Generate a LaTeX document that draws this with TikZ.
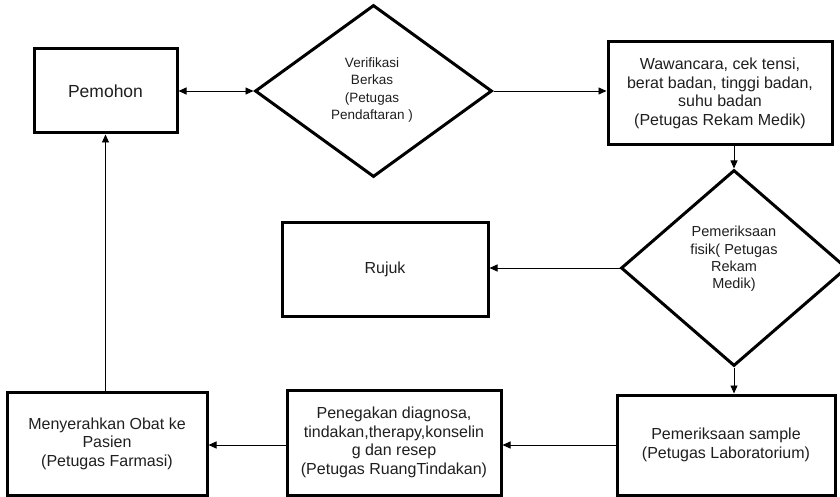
\documentclass[tikz,border=0pt]{standalone}
\usepackage{fontspec}
\setmainfont{Liberation Sans}
\usetikzlibrary{shapes.geometric,arrows.meta}
\begin{document}
\begin{tikzpicture}[x=1pt,y=-1pt,
  box/.style={draw=black,line width=3pt,rectangle,inner sep=0pt,align=center,
    font=\fontsize{16}{18.5}\selectfont,text=black!88},
  dia/.style={draw=black,line width=3pt,diamond,inner sep=0pt},
  dtext/.style={inner sep=0pt,align=center,font=\fontsize{13.8}{17.3}\selectfont,text=black!88},
  arr/.style={line width=0.9pt,-{Triangle[length=8pt,width=7pt]}},
  darr/.style={line width=0.9pt,{Triangle[length=8pt,width=7pt]}-{Triangle[length=8pt,width=7pt]}}]
\useasboundingbox (0,0) rectangle (840,497);
\fill[white] (0,0) rectangle (840,497);
\begin{scope}
\clip (0,0) rectangle (840,497);
\node[box,minimum width=143pt,minimum height=84pt,font=\fontsize{17.5}{20}\selectfont] (pemohon) at (105.5,91) {Pemohon};
\node[dia,minimum width=237pt,minimum height=172pt] (verif) at (373.5,91) {};
\node[dtext,font=\fontsize{13.5}{17.3}\selectfont] (veriftext) at (372,90) {Verifikasi\\Berkas\\(Petugas\\Pendaftaran )};
\node[box,minimum width=224pt,minimum height=103pt] (waw) at (720,93.5) {Wawancara, cek tensi,\\berat badan, tinggi badan,\\suhu badan\\ (Petugas Rekam Medik)};
\node[dia,minimum width=226pt,minimum height=196pt] (fisik) at (734,268) {};
\node[dtext,font=\fontsize{14.5}{17.3}\selectfont] (fisiktext) at (734,259) {Pemeriksaan\\fisik( Petugas\\Rekam\\Medik)};
\node[box,minimum width=206pt,minimum height=94pt] (rujuk) at (385,269) {Rujuk};
\node[box,minimum width=218pt,minimum height=100pt] (sample) at (726,445) {Pemeriksaan sample\\(Petugas Laboratorium)};
\node[box,minimum width=214pt,minimum height=105pt] (pene) at (394,442.5) {Penegakan diagnosa,\\tindakan,therapy,konselin\\g dan resep\\(Petugas RuangTindakan)};
\node[box,minimum width=200pt,minimum height=103pt] (serah) at (107,443.5) {Menyerahkan Obat ke\\Pasien\\(Petugas Farmasi)};
\end{scope}
\draw[darr] (pemohon.east) -- (verif.west);
\draw[arr] (verif.east) -- (verif.east -| waw.west);
\draw[arr] (fisik.north |- waw.south) -- (fisik.north);
\draw[arr] (fisik.west) -- (fisik.west -| rujuk.east);
\draw[arr] (fisik.south) -- (fisik.south |- sample.north);
\draw[arr] (sample.west) -- (sample.west -| pene.east);
\draw[arr] (sample.west -| pene.west) -- (sample.west -| serah.east);
\draw[arr] (pemohon.south |- serah.north) -- (pemohon.south);
\end{tikzpicture}
\end{document}
